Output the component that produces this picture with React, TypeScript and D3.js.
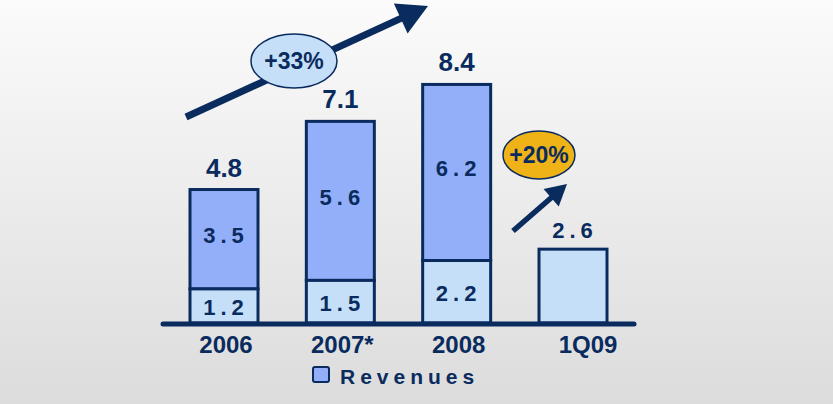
import * as d3 from "d3";

const categories = ["2006", "2007*", "2008", "1Q09"];
const lowerValues = [1.2, 1.5, 2.2, 2.6];
const upperValues = [3.5, 5.6, 6.2, 0];
const totals = [4.8, 7.1, 8.4, null];
const growthLabels = ["+33%", "+20%"];
const legendLabel = "Revenues";

const W = 833;
const H = 404;
const NAVY = "#0a2b5e";
const UPPER = "#93aff9";
const LOWER = "#c6dff8";
const GOLD = "#efb217";
const FONT = "'Liberation Sans', Arial, sans-serif";

function Arrow({ x1, y1, x2, y2, width, head }: { x1: number; y1: number; x2: number; y2: number; width: number; head: number }) {
  const a = Math.atan2(y2 - y1, x2 - x1);
  const bx = x2 - Math.cos(a) * head;
  const by = y2 - Math.sin(a) * head;
  const hw = head * 0.55;
  const px = -Math.sin(a) * hw;
  const py = Math.cos(a) * hw;
  return (
    <g>
      <line x1={x1} y1={y1} x2={bx + Math.cos(a) * 2} y2={by + Math.sin(a) * 2} stroke={NAVY} strokeWidth={width} />
      <polygon points={`${x2},${y2} ${bx + px},${by + py} ${bx - px},${by - py}`} fill={NAVY} />
    </g>
  );
}

export default function App() {
  const baseY = 323;
  const y = d3.scaleLinear().domain([0, 10]).range([baseY, baseY - 284]);
  const x = d3.scalePoint<string>().domain(categories).range([224, 573]).padding(0);
  const barW = 68;

  const fmt = d3.format(".1f");

  return (
    <svg width={W} height={H} style={{ position: "absolute", left: 0, top: 0 }} fontFamily={FONT}>
      <defs>
        <linearGradient id="bg" x1="0" y1="0" x2="0" y2="1">
          <stop offset="0%" stopColor="#fbfbfb" />
          <stop offset="100%" stopColor="#dcdcdc" />
        </linearGradient>
      </defs>
      <rect x={0} y={0} width={W} height={H} fill="url(#bg)" />

      {categories.map((c, i) => {
        const cx = x(c)!;
        const x0 = cx - barW / 2;
        const lowTop = y(lowerValues[i]);
        const upTop = y(lowerValues[i] + upperValues[i]);
        return (
          <g key={c}>
            {upperValues[i] > 0 && (
              <rect x={x0} y={upTop} width={barW} height={lowTop - upTop} fill={UPPER} stroke={NAVY} strokeWidth={3} />
            )}
            <rect x={x0} y={lowTop} width={barW} height={baseY - lowTop} fill={LOWER} stroke={NAVY} strokeWidth={3} />
            {upperValues[i] > 0 && (
              <text x={cx + 2} y={(upTop + lowTop) / 2 + 4} textAnchor="middle" fontSize={22} fontWeight="bold" fill={NAVY} letterSpacing={5}>
                {fmt(upperValues[i])}
              </text>
            )}
            {upperValues[i] > 0 ? (
              <text x={cx + 2} y={(lowTop + baseY) / 2 + 9} textAnchor="middle" fontSize={22} fontWeight="bold" fill={NAVY} letterSpacing={5}>
                {fmt(lowerValues[i])}
              </text>
            ) : (
              <text x={cx + 2} y={lowTop - 11} textAnchor="middle" fontSize={22} fontWeight="bold" fill={NAVY} letterSpacing={5}>
                {fmt(lowerValues[i])}
              </text>
            )}
            {totals[i] !== null && (
              <text x={cx} y={upTop - 13} textAnchor="middle" fontSize={26} fontWeight="bold" fill={NAVY}>
                {fmt(totals[i] as number)}
              </text>
            )}
            <text x={cx + (i === 3 ? 15 : 2)} y={353} textAnchor="middle" fontSize={24} fontWeight="bold" fill={NAVY}>
              {c}
            </text>
          </g>
        );
      })}

      <line x1={x(categories[0])! - 61} x2={x(categories[3])! + 61} y1={baseY + 1} y2={baseY + 1} stroke={NAVY} strokeWidth={5} strokeLinecap="round" />

      <Arrow x1={186} y1={117} x2={428} y2={6} width={7} head={30} />
      <ellipse cx={294} cy={61} rx={43} ry={27} fill={LOWER} stroke={NAVY} strokeWidth={1.5} />
      <text x={294} y={69} textAnchor="middle" fontSize={23} fontWeight="bold" fill={NAVY}>{growthLabels[0]}</text>

      <Arrow x1={513} y1={231} x2={567} y2={184} width={5.5} head={21} />
      <ellipse cx={539} cy={155} rx={36} ry={24} fill={GOLD} stroke={NAVY} strokeWidth={1.5} />
      <text x={539} y={163} textAnchor="middle" fontSize={23} fontWeight="bold" fill={NAVY}>{growthLabels[1]}</text>

      <rect x={313} y={367} width={16} height={15} rx={2} fill={UPPER} stroke={NAVY} strokeWidth={2} />
      <text x={340} y={384} fontSize={21} fontWeight="bold" fill={NAVY} letterSpacing={5}>{legendLabel}</text>
    </svg>
  );
}
